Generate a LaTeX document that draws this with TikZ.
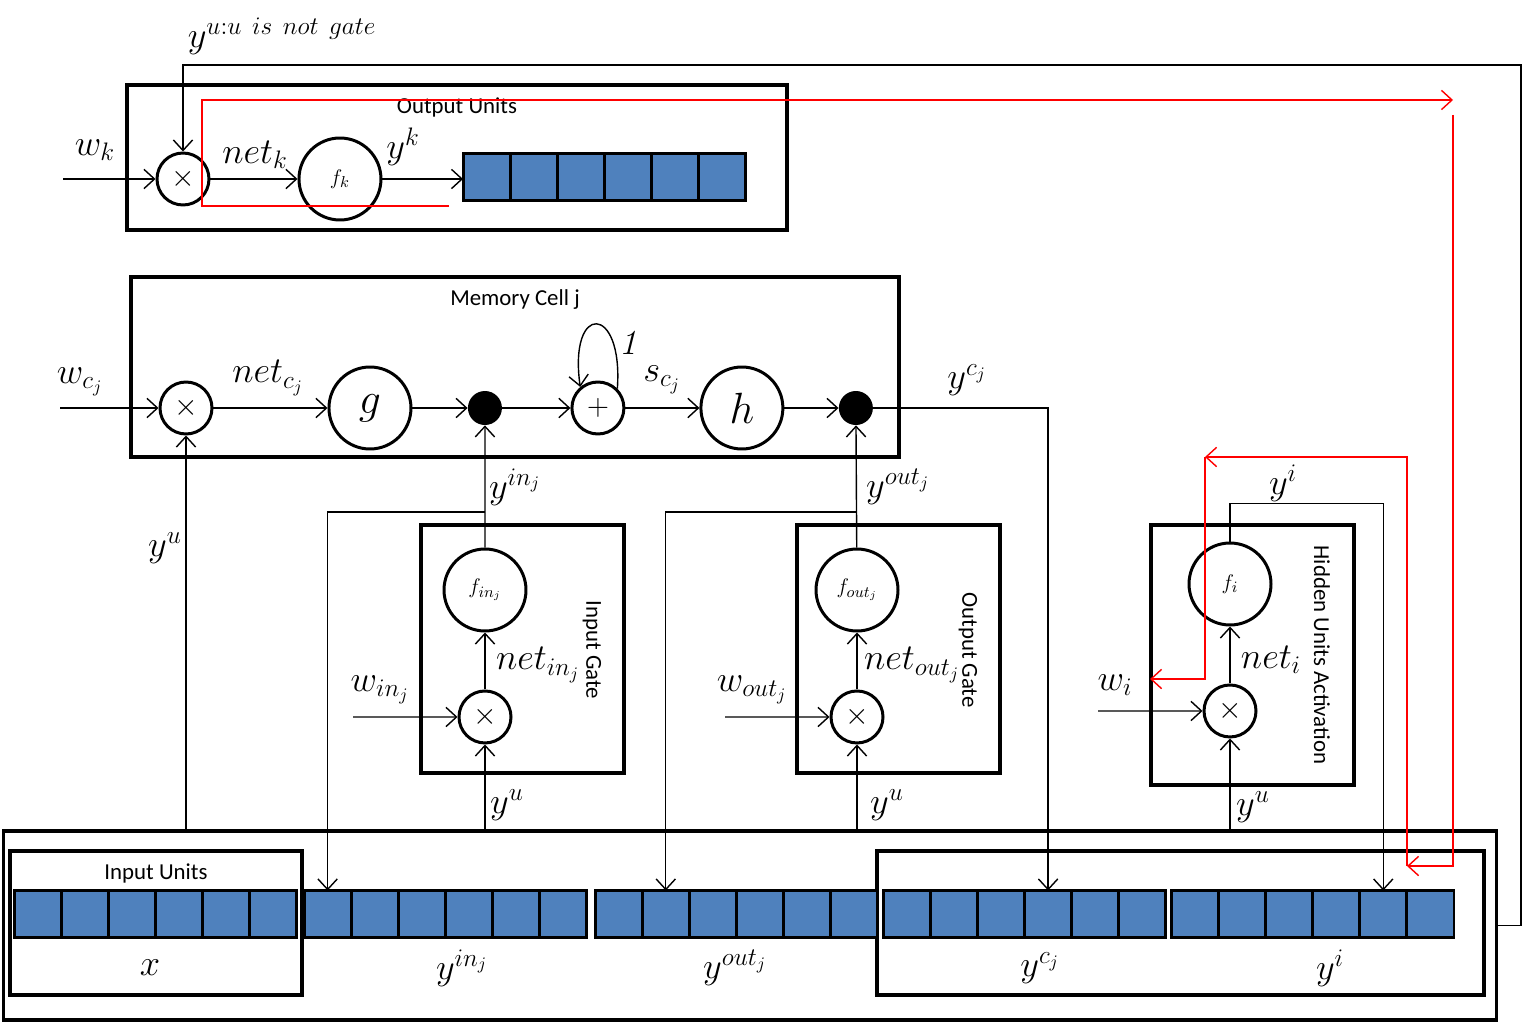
\documentclass[tikz,border=0pt]{standalone}
\usepackage{amsmath}
\usepackage{fontspec}
\newfontfamily\boxfont{Carlito}
\usetikzlibrary{arrows.meta,calc,positioning}

\definecolor{cellblue}{RGB}{79,129,189}

\tikzset{
  unitbox/.style={draw, line width=1.8pt, inner sep=0pt, outer sep=0pt},
  opnode/.style={circle, draw, line width=1.7pt, minimum size=1.04cm, inner sep=0pt, font=\fontsize{18}{20}\selectfont},
  actnode/.style={circle, draw, line width=1.7pt, minimum size=1.64cm, inner sep=0pt, font=\fontsize{13}{15}\selectfont},
  bigact/.style={actnode, font=\fontsize{24}{28}\selectfont},
  gatedot/.style={circle, fill, minimum size=0.68cm, inner sep=0pt},
  link/.style={-{Straight Barb[length=6pt,width=11pt]}, line width=0.8pt},
  redflow/.style={link, draw=red},
  lbl/.style={font=\fontsize{20}{24}\selectfont, inner sep=0pt},
  boxtitle/.style={font=\boxfont\fontsize{13}{15}\selectfont},
  cellbar/.style={draw, line width=1.7pt, fill=cellblue, minimum width=5.66cm, minimum height=0.94cm, inner sep=0pt, outer sep=0pt}
}

\begin{document}
\begin{tikzpicture}[x=0.02cm, y=-0.02cm, node distance=2cm, on grid]
\useasboundingbox (0,0) rectangle (1523,1023);

% output units
\node[unitbox, minimum width=13.2cm, minimum height=2.9cm] (outbox) at (457,157.5) {};
\node[boxtitle] at (457,107) {Output Units};
\node[opnode] (mk) at (183,179) {$\times$};
\node[actnode, right=3.14cm of mk] (fk) {$f_k$};
\node[cellbar] (outbar) at (604.5,177) {};
\coordinate (wkin) at (63,179);
\draw[link] (wkin) -- (mk);
\draw[link] (mk) -- (fk);
\draw[link] (fk) -- (fk -| outbar.west);

% memory cell
\node[unitbox, minimum width=15.36cm, minimum height=3.6cm] (cellbox) at (515,367) {};
\node[boxtitle] at (515,300) {Memory Cell j};
\node[opnode] (mc) at (186,408) {$\times$};
\node[bigact, right=3.68cm of mc] (g) {$g$};
\node[gatedot, right=2.3cm of g] (d1) {};
\node[opnode, right=2.26cm of d1] (sum) {$+$};
\node[bigact, right=2.88cm of sum] (h) {$h$};
\node[gatedot, right=2.28cm of h] (d2) {};
\coordinate (wcin) at (60,408);
\draw[link] (wcin) -- (mc);
\draw[link] (mc) -- (g);
\draw[link] (g) -- (d1);
\draw[link] (d1) -- (sum);
\draw[link] (sum) -- (h);
\draw[link] (h) -- (d2);
\draw[link] (sum.45) .. controls +(6,-85) and +(-12,-85) .. (sum.130);

% input gate
\node[unitbox, minimum width=4.06cm, minimum height=4.96cm] (ingate) at (522.5,649) {};
\node[boxtitle, rotate=-90] at (592,650) {Input Gate};
\node[actnode] (fin) at (485,590) {$f_{in_j}$};
\node[opnode, below=2.54cm of fin] (min) {$\times$};
\coordinate (winin) at (353,717);
\draw[link] (winin) -- (min);
\draw[link] (min) -- (fin);
\draw[link] (fin) -- (d1);

% output gate
\node[unitbox, minimum width=4.06cm, minimum height=4.96cm] (outgate) at (898.5,649) {};
\node[boxtitle, rotate=-90] at (968,650) {Output Gate};
\node[actnode] (fout) at (857,590) {$f_{out_j}$};
\node[opnode, below=2.54cm of fout] (mout) {$\times$};
\coordinate (woutin) at (725,717);
\draw[link] (woutin) -- (mout);
\draw[link] (mout) -- (fout);
\draw[link] (fout) -- (d2);

% hidden units
\node[unitbox, minimum width=4.06cm, minimum height=5.2cm] (hidbox) at (1252.5,655) {};
\node[boxtitle, rotate=-90] at (1322,655) {Hidden Units Activation};
\node[actnode] (fi) at (1230,584) {$f_i$};
\node[opnode, below=2.54cm of fi] (mi) {$\times$};
\coordinate (wiin) at (1098,711);
\draw[link] (wiin) -- (mi);
\draw[link] (mi) -- (fi);

% input layer
\node[unitbox, minimum width=29.88cm, minimum height=3.78cm] (botbox) at (750,925.5) {};
\node[unitbox, minimum width=5.84cm, minimum height=2.88cm] (inbox) at (156,923) {};
\node[unitbox, minimum width=12.14cm, minimum height=2.88cm] (rbox) at (1180.5,923) {};
\node[boxtitle] at (156,873) {Input Units};
\node[cellbar] (xbar) at (155.5,914) {};
\node[cellbar] (yinbar) at (445.5,914) {};
\node[cellbar] (youtbar) at (736.5,914) {};
\node[cellbar] (ycbar) at (1024.5,914) {};
\node[cellbar] (yibar) at (1312.5,914) {};
\foreach \b in {outbar,xbar,yinbar,youtbar,ycbar,yibar}
  \foreach \k in {1,...,5}
    \draw[line width=1.7pt] ($(\b.north west)!\k/6!(\b.north east)$) -- ($(\b.south west)!\k/6!(\b.south east)$);

% targets in the cell bars
\coordinate (yinpt) at ($(yinbar.north west)!0.5/6!(yinbar.north east)$);
\coordinate (youtpt) at ($(youtbar.north west)!1.5/6!(youtbar.north east)$);
\coordinate (ycpt) at ($(ycbar.north west)!3.5/6!(ycbar.north east)$);
\coordinate (yipt) at ($(yibar.north west)!4.5/6!(yibar.north east)$);

% y^u from the input layer
\draw[link] (mc |- botbox.north) -- (mc);
\draw[link] (min |- botbox.north) -- (min);
\draw[link] (mout |- botbox.north) -- (mout);
\draw[link] (mi |- botbox.north) -- (mi);

% recurrent outputs back to the layer
\draw[link] (fin.north |- 0,512) -| (yinpt);
\draw[link] (fout.north |- 0,512) -| (youtpt);
\draw[link] (d2) -| (ycpt);
\draw[link] (fi.north) -- ++(0,-38) -| (yipt);
\draw[link] (botbox.east) -- ++(24,0) -- ++(0,-860.5) -| (mk.north);

% labels
\node[lbl] at (282,36) {$y^{u:u\ is\ not\ gate}$};
\node[lbl] at (95,150) {$w_k$};
\node[lbl] at (255,155) {$net_k$};
\node[lbl] at (403,147) {$y^k$};
\node[lbl] at (80,382) {$w_{c_j}$};
\node[lbl] at (268,378) {$net_{c_j}$};
\node[lbl] at (628,343) {\textit{1}};
\node[lbl] at (662,380) {$s_{c_j}$};
\node[lbl] at (967,380) {$y^{c_j}$};
\node[lbl] at (165,548) {$y^u$};
\node[lbl] at (515,487) {$y^{in_j}$};
\node[lbl] at (538,665) {$net_{in_j}$};
\node[lbl] at (380,690) {$w_{in_j}$};
\node[lbl] at (507,805) {$y^u$};
\node[lbl] at (898,487) {$y^{out_j}$};
\node[lbl] at (912,665) {$net_{out_j}$};
\node[lbl] at (752,690) {$w_{out_j}$};
\node[lbl] at (887,805) {$y^u$};
\node[lbl] at (1283,483) {$y^i$};
\node[lbl] at (1271,660) {$net_i$};
\node[lbl] at (1115,685) {$w_i$};
\node[lbl] at (1253,807) {$y^u$};
\node[lbl] at (150,968) {$x$};
\node[lbl] at (462,968) {$y^{in_j}$};
\node[lbl] at (735,968) {$y^{out_j}$};
\node[lbl] at (1040,968) {$y^{c_j}$};
\node[lbl] at (1330,968) {$y^i$};

% error flow
\coordinate (redA) at (449,206);
\coordinate (redB) at (1453,100);
\coordinate (redC) at (1453,115);
\coordinate (redD) at (1407,866);
\coordinate (redE) at (1205,457);
\coordinate (redF) at (1150,679);
\draw[redflow] (redA) -- (202,206) |- (redB);
\draw[redflow] (redC) |- (redD);
\draw[redflow] (redD) |- (redE);
\draw[redflow] (redE) |- (redF);
\end{tikzpicture}
\end{document}
